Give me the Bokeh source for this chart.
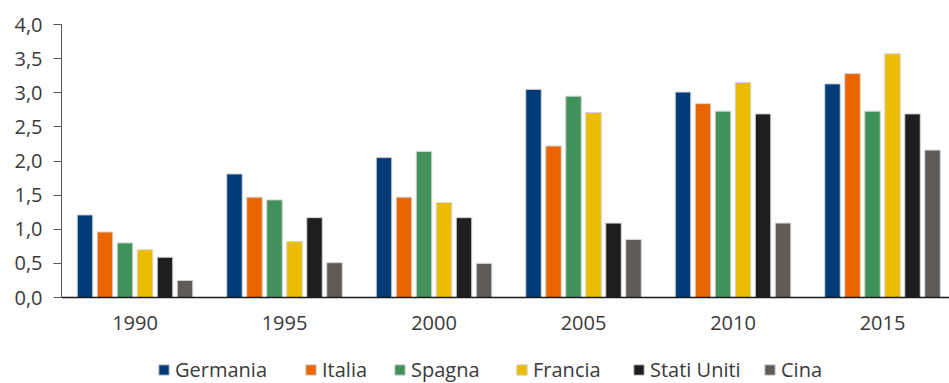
from bokeh.plotting import figure
from bokeh.models import Range1d, FixedTicker, Legend, LegendItem, ColumnDataSource
from bokeh.transform import dodge
from bokeh.embed import file_html
from bokeh.resources import INLINE

years = ["1990", "1995", "2000", "2005", "2010", "2015"]
series_names = ["Germania", "Italia", "Spagna", "Francia", "Stati Uniti", "Cina"]
germania = [1.21, 1.81, 2.05, 3.05, 3.01, 3.13]
italia = [0.96, 1.47, 1.47, 2.22, 2.84, 3.28]
spagna = [0.80, 1.43, 2.14, 2.95, 2.73, 2.73]
francia = [0.70, 0.82, 1.39, 2.71, 3.15, 3.57]
stati_uniti = [0.59, 1.17, 1.17, 1.09, 2.69, 2.69]
cina = [0.25, 0.51, 0.50, 0.85, 1.09, 2.16]
y_ticks = [0.0, 0.5, 1.0, 1.5, 2.0, 2.5, 3.0, 3.5, 4.0]

colors = ["#023B78", "#EA6400", "#41915B", "#ECBC00", "#1E1E1C", "#5F5B58"]
all_series = [germania, italia, spagna, francia, stati_uniti, cina]

FONT = "Open Sans"
TXT = "#3a3a3a"

x_pos = list(range(len(years)))
data = {"x": x_pos}
for name, vals in zip(series_names, all_series):
    data[name] = vals
src = ColumnDataSource(data)

# frame spans from y=24 to window bottom (383); value 0 sits at y=297
px_per_unit = 273 / 4.0
y_min = -(383 - 297) / px_per_unit

p = figure(width=949, height=383, output_backend="svg", toolbar_location=None,
           x_range=Range1d(-0.4916, 5.448), y_range=Range1d(y_min, 4),
           min_border_left=61, min_border_right=0, min_border_top=24, min_border_bottom=0)
p.outline_line_color = None
p.xgrid.visible = False
p.ygrid.visible = False
p.background_fill_color = "white"
p.border_fill_color = "white"

step = 0.1338
width = 0.1037
renderers = []
for i, (name, col) in enumerate(zip(series_names, colors)):
    off = (i - 2.5) * step
    r = p.vbar(x=dodge("x", off, range=p.x_range), top=name, bottom=0, width=width, source=src,
               fill_color=col, line_color="#d4d4d4", line_width=1)
    renderers.append(r)

# x axis, pinned at value 0
xa = p.xaxis[0]
xa.fixed_location = 0
xa.ticker = FixedTicker(ticks=x_pos)
xa.major_label_overrides = {i: y for i, y in enumerate(years)}
xa.major_tick_line_color = None
xa.minor_tick_line_color = None
xa.axis_line_color = "#1a1a1a"
xa.axis_line_width = 1.5
xa.major_label_text_font = FONT
xa.major_label_text_font_size = "20px"
xa.major_label_text_color = TXT
xa.major_label_standoff = 12

ya = p.yaxis[0]
ya.bounds = (0, 4)
ya.ticker = FixedTicker(ticks=y_ticks)
ya.major_label_overrides = {t: ("%.1f" % t).replace(".", ",") for t in y_ticks}
ya.minor_tick_line_color = None
ya.major_tick_in = 0
ya.major_tick_out = 8
ya.major_tick_line_color = "#595959"
ya.axis_line_color = "#595959"
ya.major_label_text_font = FONT
ya.major_label_text_font_size = "20px"
ya.major_label_text_color = TXT
ya.major_label_standoff = 11

# legend: one entry per series at its own position
legend_x = [157, 304, 393, 515, 632, 763]
for name, r, lx in zip(series_names, renderers, legend_x):
    lg = Legend(items=[LegendItem(label=name, renderers=[r])],
                location=(lx - 61, 0), orientation="horizontal",
                glyph_width=13, glyph_height=13, label_standoff=5,
                label_text_font=FONT, label_text_font_size="20px", label_text_color=TXT,
                padding=0, margin=0, border_line_color=None, background_fill_alpha=0,
                label_height=13)
    p.add_layout(lg, "center")

open("out.html", "w").write(file_html(p, INLINE))
